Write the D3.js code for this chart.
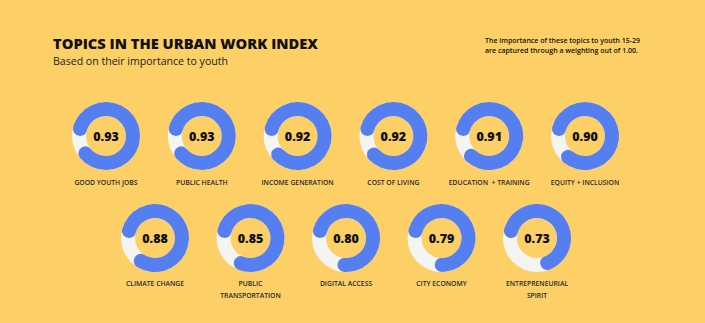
<!DOCTYPE html>
<html>
<head>
<meta charset="utf-8">
<script src="https://cdn.jsdelivr.net/npm/d3@7"></script>
<style>
  html, body { margin: 0; padding: 0; background: #fcd066; }
  svg { display: block; }
</style>
</head>
<body>
<svg id="chart" width="705" height="323"></svg>
<script>
// ---- data ----
const row1Topics = ["GOOD YOUTH JOBS", "PUBLIC HEALTH", "INCOME GENERATION", "COST OF LIVING", "EDUCATION  + TRAINING", "EQUITY + INCLUSION"];
const row1Values = [0.93, 0.93, 0.92, 0.92, 0.91, 0.90];
const row2Topics = ["CLIMATE CHANGE", "PUBLIC\nTRANSPORTATION", "DIGITAL ACCESS", "CITY ECONOMY", "ENTREPRENEURIAL\nSPIRIT"];
const row2Values = [0.88, 0.85, 0.80, 0.79, 0.73];
const titleText = "TOPICS IN THE URBAN WORK INDEX";
const subtitleText = "Based on their importance to youth";
const noteLines = ["The importance of these topics to youth 15-29", "are captured through a weighting out of 1.00."];

// ---- drawing ----
const svg = d3.select("#chart");
const W = 705, H = 323;
svg.append("rect").attr("width", W).attr("height", H).attr("fill", "#fcd066");

svg.append("text").attr("x", 53).attr("y", 48.5)
  .attr("font-family", "'Open Sans', sans-serif").attr("font-weight", 800)
  .attr("font-size", 14).attr("fill", "#111")
  .attr("textLength", 265).attr("lengthAdjust", "spacingAndGlyphs")
  .text(titleText);
svg.append("text").attr("x", 53).attr("y", 65)
  .attr("font-family", "'Open Sans', sans-serif").attr("font-weight", 400)
  .attr("font-size", 10.5).attr("fill", "#222")
  .attr("textLength", 175).attr("lengthAdjust", "spacingAndGlyphs")
  .text(subtitleText);
svg.append("g").selectAll("text").data(noteLines).join("text")
  .attr("x", 485).attr("y", (d, i) => 43 + i * 9.5)
  .attr("font-family", "'Open Sans', sans-serif").attr("font-weight", 600)
  .attr("font-size", 7).attr("fill", "#111")
  .attr("textLength", (d, i) => i === 0 ? 155 : 153).attr("lengthAdjust", "spacingAndGlyphs")
  .text(d => d);

const outerR = 34, innerR = 20;
const arcBg = d3.arc().innerRadius(innerR).outerRadius(outerR).startAngle(0).endAngle(2 * Math.PI);
const arcVal = d3.arc().innerRadius(innerR).outerRadius(outerR).cornerRadius((outerR - innerR) / 2);
const angle = d3.scaleLinear().domain([0, 1]).range([-Math.PI / 2, 1.5 * Math.PI]);

function drawRow(topics, values, x0, x1, cy, labelY) {
  const x = d3.scalePoint().domain(topics).range([x0, x1]);
  const g = svg.append("g").selectAll("g").data(topics).join("g")
    .attr("transform", d => `translate(${x(d)},${cy})`);
  g.append("path").attr("d", arcBg()).attr("fill", "#f4f4f2");
  g.append("path").attr("d", (d, i) => arcVal({ startAngle: angle(0), endAngle: angle(values[i]) }))
    .attr("fill", "#557ef0");
  g.append("text").attr("text-anchor", "middle").attr("dy", "0.36em")
    .attr("font-family", "'Open Sans', sans-serif").attr("font-weight", 800)
    .attr("font-size", 12.5).attr("fill", "#111")
    .text((d, i) => values[i].toFixed(2));
  const lab = g.append("text").attr("text-anchor", "middle")
    .attr("font-family", "'Open Sans', sans-serif").attr("font-weight", 600)
    .attr("font-size", 6.8).attr("fill", "#2a2a2a")
    .attr("y", labelY - cy);
  lab.selectAll("tspan").data(d => d.split("\n")).join("tspan")
    .attr("x", 0).attr("dy", (d, i) => i === 0 ? 0 : 11.5)
    .attr("xml:space", "preserve")
    .text(d => d);
}
drawRow(row1Topics, row1Values, 106, 585, 136, 184.5);
drawRow(row2Topics, row2Values, 155, 537, 238, 286);
</script>
</body>
</html>
